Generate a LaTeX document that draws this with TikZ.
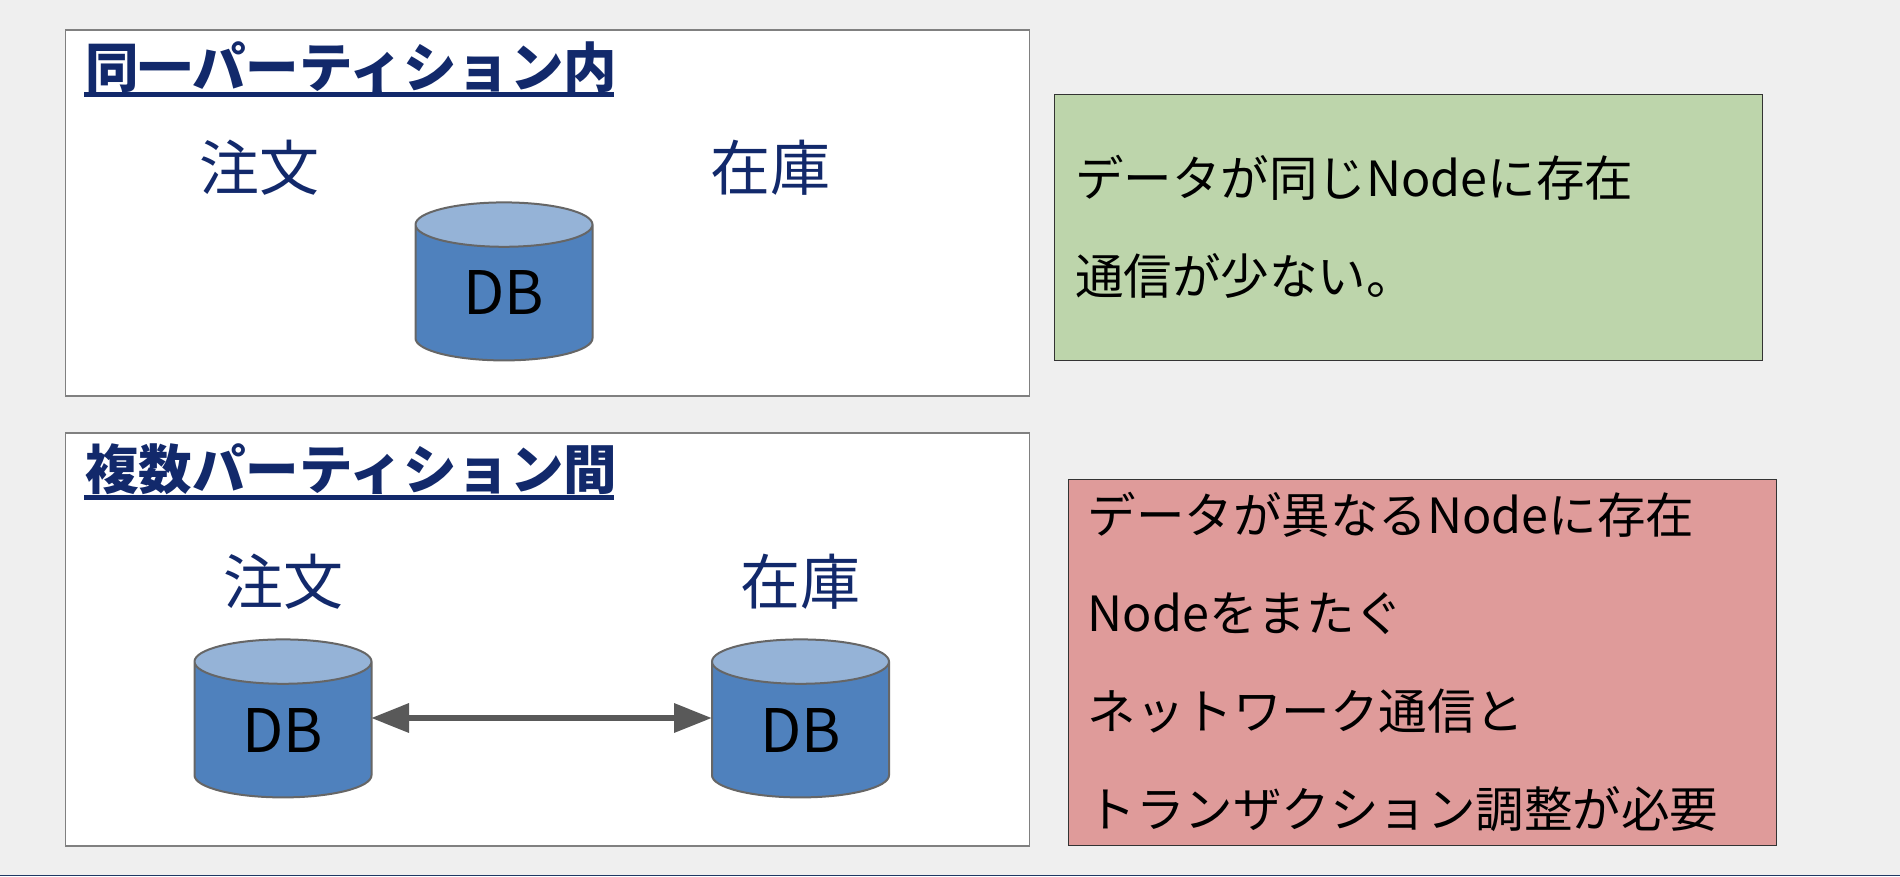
\documentclass[tikz,border=0pt]{standalone}
\usepackage{fontspec}
\setmainfont{Noto Sans CJK JP}
\usetikzlibrary{shapes.geometric,arrows.meta}
\definecolor{bgc}{HTML}{EFEFEF}
\definecolor{navy}{HTML}{12296B}
\definecolor{cylbody}{HTML}{4F81BD}
\definecolor{cyltop}{HTML}{95B3D7}
\definecolor{cylline}{HTML}{666666}
\definecolor{framec}{HTML}{808080}
\definecolor{greenc}{HTML}{BDD5AB}
\definecolor{redc}{HTML}{DF9B9A}
\definecolor{arrowc}{HTML}{595959}
\definecolor{barc}{HTML}{1F3864}
\tikzset{
  x=1pt,y=-1pt,
  panel/.style={draw=framec,fill=white,line width=1.5pt,inner sep=0pt,anchor=north west},
  notebox/.style={draw=black!80,line width=1.2pt,inner sep=0pt,anchor=north west},
  titletext/.style={text=navy,inner sep=0pt,anchor=base west,font=\fontsize{53.5}{60}\selectfont\bfseries},
  titlerule/.style={draw=navy,line width=5pt},
  entity/.style={text=navy,inner sep=0pt,font=\fontsize{60}{66}\selectfont},
  notetext/.style={inner sep=0pt,anchor=north west,align=left,text=black,font=\fontsize{48.5}{98}\selectfont},
  dbcyl/.style={shape=cylinder,shape border rotate=90,aspect=0.55,cylinder uses custom fill,
    cylinder body fill=cylbody,cylinder end fill=cyltop,draw=cylline,line width=2pt,
    minimum width=177pt,minimum height=158pt,inner sep=0pt,text=black,font=\fontsize{60}{66}\selectfont},
  link/.style={draw=arrowc,line width=6.5pt,{Triangle[length=38pt,width=28pt]}-{Triangle[length=38pt,width=28pt]},shorten >=-1pt,shorten <=-1.5pt}
}
\begin{document}
\begin{tikzpicture}
\useasboundingbox (0,0) rectangle (1900,876);
\fill[bgc] (0,0) rectangle (1900,876);
\fill[barc] (0,874.5) rectangle (1900,876);
\node[panel,minimum width=964pt,minimum height=366pt] (p1) at (64.5,29) {};
\node[panel,minimum width=964pt,minimum height=413pt] (p2) at (64.5,432) {};
\node[notebox,fill=greenc,minimum width=708pt,minimum height=266pt] (g) at (1054,94) {};
\node[notebox,fill=redc,minimum width=708pt,minimum height=366pt] (r) at (1067.5,479) {};
\node[titletext] (t1) at (85,87) {同一パーティション内};
\node[titletext] (t2) at (85,489) {複数パーティション間};
\coordinate (t1l) at (84,94.5); \coordinate (t1r) at (614,94.5);
\coordinate (t2l) at (84,497.5); \coordinate (t2r) at (614,497.5);
\draw[titlerule] (t1l) -- (t1r);
\draw[titlerule] (t2l) -- (t2r);
\node[entity] (o1) at (259,168) {注文};
\node[entity] (s1) at (770,168) {在庫};
\node[entity] (o2) at (283.5,582) {注文};
\node[entity] (s2) at (800.5,582) {在庫};
\node[dbcyl] (d1) at (504,293) {DB};
\node[dbcyl] (d2) at (283,730) {DB};
\node[dbcyl] (d3) at (800.5,730) {DB};
\coordinate (mid) at (500,718);
\draw[link] (d2.east |- mid) -- (d3.west |- mid);
\node[notetext] (gt) at (1075,155) {データが同じNodeに存在\\通信が少ない。};
\node[notetext] (rt) at (1087.5,492) {データが異なるNodeに存在\\Nodeをまたぐ\\ネットワーク通信と\\トランザクション調整が必要};
\end{tikzpicture}
\end{document}
